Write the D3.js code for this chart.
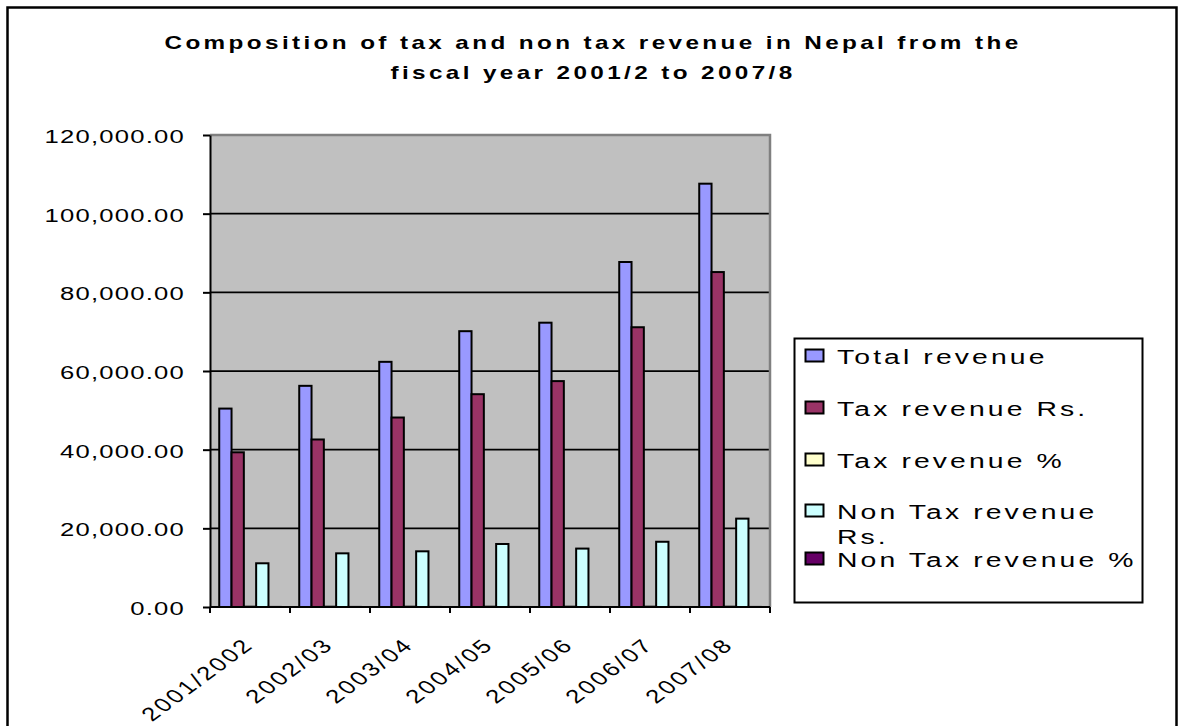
<!DOCTYPE html>
<html>
<head>
<meta charset="utf-8">
<script src="https://cdn.jsdelivr.net/npm/d3@7"></script>
<style>
  html, body { margin: 0; padding: 0; background: #fff; }
  svg { display: block; }
  text { font-family: "Liberation Sans", Arial, sans-serif; fill: #000; }
</style>
</head>
<body>
<svg id="chart" width="1178" height="726"></svg>
<script>
// Fiscal years on the category axis
const categories = ["2001/2002", "2002/03", "2003/04", "2004/05", "2005/06", "2006/07", "2007/08"];

// Series (Rs. in million, and shares in %)
const seriesNames = ["Total revenue", "Tax revenue Rs.", "Tax revenue %", "Non Tax revenue Rs.", "Non Tax revenue %"];
const totalRevenue     = [50445.5, 56229.8, 62331.0, 70122.7, 72282.1, 87712.1, 107622.5];
const taxRevenueRs     = [39330.6, 42586.9, 48173.2, 54104.7, 57430.4, 71126.7, 85155.5];
const taxRevenuePct    = [77.97, 75.74, 77.29, 77.16, 79.45, 81.09, 79.12];
const nonTaxRevenueRs  = [11114.9, 13642.9, 14157.8, 16018.0, 14851.7, 16585.4, 22467.0];
const nonTaxRevenuePct = [22.03, 24.26, 22.71, 22.84, 20.55, 18.91, 20.88];

const yTicks = [0, 20000, 40000, 60000, 80000, 100000, 120000];
const seriesColors = ["#9999FF", "#993366", "#FFFFCC", "#CCFFFF", "#660066"];

const titleLines = [
  "Composition of tax and non tax revenue in Nepal from the",
  "fiscal year 2001/2 to 2007/8"
];

const seriesValues = [totalRevenue, taxRevenueRs, taxRevenuePct, nonTaxRevenueRs, nonTaxRevenuePct];

// wide lettering used throughout the chart (text is drawn horizontally widened)
const SX = 1.35;
const at = (px, py, rot) => `translate(${px},${py}) scale(${SX},1)` + (rot ? ` rotate(${rot})` : "");

const svg = d3.select("#chart");

// chart area frame
svg.append("rect")
  .attr("x", 7.5).attr("y", 7.5)
  .attr("width", 1169).attr("height", 740)
  .attr("fill", "#fff").attr("stroke", "#000").attr("stroke-width", 2.5);

// title
svg.append("g").selectAll("text")
  .data(titleLines)
  .join("text")
  .attr("transform", (d, i) => at(593, 49 + i * 30))
  .attr("text-anchor", "middle")
  .attr("font-size", 18)
  .attr("font-weight", "bold")
  .attr("letter-spacing", "2.5px")
  .text(d => d);

const plot = { left: 210, right: 770, top: 135, bottom: 607 };

const x = d3.scaleBand().domain(categories).range([plot.left, plot.right]).padding(0);
const xSub = d3.scaleBand().domain(seriesNames).range([0, x.bandwidth()])
  .paddingInner(0).paddingOuter(0.75);
const y = d3.scaleLinear().domain([0, 120000]).range([plot.bottom, plot.top]);

// plot area background
svg.append("rect")
  .attr("x", plot.left).attr("y", plot.top)
  .attr("width", plot.right - plot.left).attr("height", plot.bottom - plot.top)
  .attr("fill", "#C0C0C0");

// horizontal gridlines
svg.append("g").selectAll("line")
  .data(yTicks.filter(t => t > 0 && t < 120000))
  .join("line")
  .attr("x1", plot.left).attr("x2", plot.right)
  .attr("y1", d => y(d)).attr("y2", d => y(d))
  .attr("stroke", "#000").attr("stroke-width", 1.75);

// top and right edge of plot area
svg.append("path")
  .attr("d", `M${plot.left},${plot.top}H${plot.right}V${plot.bottom}`)
  .attr("fill", "none").attr("stroke", "#808080").attr("stroke-width", 2.5);

// bars
const groups = svg.append("g").selectAll("g")
  .data(categories)
  .join("g")
  .attr("transform", d => `translate(${x(d)},0)`);

groups.selectAll("rect")
  .data((c, ci) => seriesNames.map((s, si) => ({ s, si, v: seriesValues[si][ci] })))
  .join("rect")
  .attr("x", d => xSub(d.s))
  .attr("width", xSub.bandwidth())
  .attr("y", d => y(d.v))
  .attr("height", d => y(0) - y(d.v))
  .attr("fill", d => seriesColors[d.si])
  .attr("stroke", "#000").attr("stroke-width", 2);

// y axis line and ticks
const yAxis = d3.axisLeft(y).tickValues(yTicks).tickSize(7).tickSizeOuter(0).tickFormat("");
const gy = svg.append("g").attr("transform", `translate(${plot.left},0)`).call(yAxis);
gy.select(".domain").attr("stroke", "#000").attr("stroke-width", 2);
gy.selectAll(".tick line").attr("stroke", "#000").attr("stroke-width", 2);

// y tick labels
const fmt = d3.format(",.2f");
svg.append("g").selectAll("text")
  .data(yTicks)
  .join("text")
  .attr("transform", d => at(185, y(d) + 8))
  .attr("text-anchor", "end")
  .attr("font-size", 19)
  .attr("letter-spacing", "0.9px")
  .text(d => fmt(d));

// x axis: ticks on category boundaries
const xAxisG = svg.append("g");
xAxisG.append("line")
  .attr("x1", plot.left).attr("x2", plot.right)
  .attr("y1", plot.bottom).attr("y2", plot.bottom)
  .attr("stroke", "#000").attr("stroke-width", 2);
const boundaries = categories.map(c => x(c)).concat([plot.right]);
xAxisG.selectAll("line.tick")
  .data(boundaries)
  .join("line")
  .attr("class", "tick")
  .attr("x1", d => d).attr("x2", d => d)
  .attr("y1", plot.bottom).attr("y2", plot.bottom + 6)
  .attr("stroke", "#000").attr("stroke-width", 2);

xAxisG.selectAll("text")
  .data(categories)
  .join("text")
  .attr("transform", d => at(x(d) + x.bandwidth() / 2 + 5, plot.bottom + 39, -45))
  .attr("text-anchor", "end")
  .attr("font-size", 19)
  .attr("letter-spacing", "2px")
  .text(d => d);

// legend
const legend = svg.append("g");
legend.append("rect")
  .attr("x", 794.5).attr("y", 338.5)
  .attr("width", 348).attr("height", 264)
  .attr("fill", "#fff").attr("stroke", "#000").attr("stroke-width", 2);

const legendRows = [356, 408, 460, 511, 559];
const legendLines = [["Total revenue"], ["Tax revenue Rs."], ["Tax revenue %"], ["Non Tax revenue", "Rs."], ["Non Tax revenue %"]];

const items = legend.selectAll("g.item")
  .data(seriesNames)
  .join("g")
  .attr("class", "item")
  .attr("transform", (d, i) => `translate(0,${legendRows[i]})`);

items.append("rect")
  .attr("x", 805.5).attr("y", -6.5)
  .attr("width", 18).attr("height", 12)
  .attr("fill", (d, i) => seriesColors[i])
  .attr("stroke", "#000").attr("stroke-width", 2);

items.append("g")
  .selectAll("text")
  .data((d, i) => legendLines[i])
  .join("text")
  .attr("transform", (d, j) => at(837, 7.5 + j * 25.5))
  .attr("font-size", 21)
  .attr("letter-spacing", "2.3px")
  .text(d => d);
</script>
</body>
</html>
